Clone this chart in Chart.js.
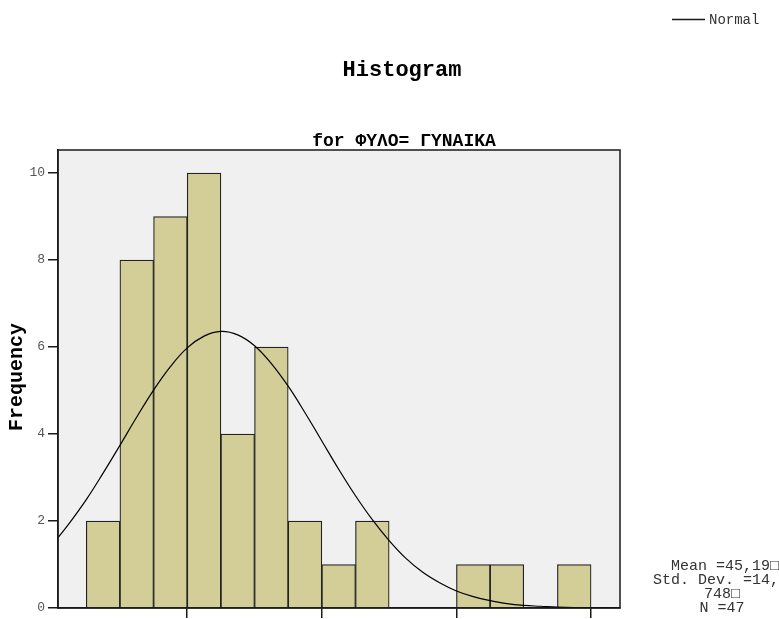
<!DOCTYPE html>
<html>
<head>
<meta charset="utf-8">
<script src="https://cdn.jsdelivr.net/npm/chart.js@4.4.1/dist/chart.umd.min.js"></script>
<style>
  html, body { margin: 0; padding: 0; background: #fff; }
  #wrap { width: 779px; height: 619px; }
</style>
</head>
<body>
<div id="wrap"><canvas id="hist"></canvas></div>
<script>
// histogram bins (centres) and counts
const binCentres = [27.5, 32.5, 37.5, 42.5, 47.5, 52.5, 57.5, 62.5, 67.5, 72.5, 77.5, 82.5, 87.5, 92.5, 97.5];
const counts = [2, 8, 9, 10, 4, 6, 2, 1, 2, 0, 0, 1, 1, 0, 1];

// normal curve
const curveX = [20.8, 22.5, 25, 27.5, 30, 32.5, 35, 37.5, 40, 42.5, 45, 47.5, 50, 52.5, 55, 57.5, 60, 62.5, 65, 67.5, 70, 72.5, 75, 77.5, 80, 82.5, 85, 87.5, 90, 92.5, 95, 97.5, 100, 104.3];
const curveY = [1.62, 1.95, 2.49, 3.10, 3.74, 4.39, 5.01, 5.55, 5.98, 6.25, 6.36, 6.28, 6.03, 5.62, 5.10, 4.49, 3.84, 3.19, 2.58, 2.03, 1.55, 1.14, 0.82, 0.58, 0.39, 0.26, 0.17, 0.10, 0.06, 0.04, 0.02, 0.01, 0.01, 0.0];

const yTicks = [0, 2, 4, 6, 8, 10];
const xTicks = [40, 60, 80, 100];
const statsLines = ["Mean =45,19\u25A1", "Std. Dev. =14,", "748\u25A1", "N =47"];

const mono = "'Liberation Mono', 'Courier New', monospace";

// background, frame and the loose texts
const extras = {
  id: "extras",
  beforeDraw(chart) {
    const { ctx, chartArea: a } = chart;
    ctx.save();
    ctx.fillStyle = "#f0f0f0";
    ctx.fillRect(a.left, a.top, a.right - a.left, a.bottom - a.top);
    ctx.restore();
  },
  afterDraw(chart) {
    const { ctx, chartArea: a } = chart;
    ctx.save();
    ctx.strokeStyle = "#1a1a1a";
    ctx.lineWidth = 1.5;
    ctx.strokeRect(a.left, a.top, a.right - a.left, a.bottom - a.top);

    ctx.fillStyle = "#000";
    ctx.textAlign = "center";
    ctx.textBaseline = "middle";
    ctx.font = "bold 22px " + mono;
    ctx.fillText("Histogram", 402, 70);
    ctx.font = "bold 18px " + mono;
    ctx.fillText("for ΦΥΛΟ= ΓΥΝΑΙΚΑ", 404, 141);

    // y title
    ctx.save();
    ctx.translate(17, 377);
    ctx.rotate(-Math.PI / 2);
    ctx.font = "bold 20px " + mono;
    ctx.fillText("Frequency", 0, 0);
    ctx.restore();

    // legend
    ctx.lineWidth = 1.3;
    ctx.beginPath();
    ctx.moveTo(672, 19.5);
    ctx.lineTo(705, 19.5);
    ctx.stroke();
    ctx.font = "14px " + mono;
    ctx.textAlign = "left";
    ctx.fillStyle = "#333";
    ctx.fillText("Normal", 709, 20);

    // stats box (long lines run to the right edge)
    ctx.font = "15px " + mono;
    statsLines.forEach((s, i) => {
      const y = 566 + i * 14;
      if (i < 2) {
        ctx.textAlign = "right";
        ctx.fillText(s, 779, y);
      } else {
        ctx.textAlign = "center";
        ctx.fillText(s, 722, y);
      }
    });
    ctx.restore();
  }
};

new Chart(document.getElementById("hist"), {
  type: "bar",
  data: {
    datasets: [
      {
        type: "line",
        label: "Normal",
        data: curveX.map((x, i) => ({ x: x, y: curveY[i] })),
        borderColor: "#000",
        borderWidth: 1.2,
        pointRadius: 0,
        tension: 0.4,
        order: 1
      },
      {
        label: "Frequency",
        data: binCentres.map((x, i) => ({ x: x, y: counts[i] })),
        backgroundColor: "#d3ce98",
        borderColor: "#222",
        borderWidth: 1.2,
        barPercentage: 1,
        categoryPercentage: 1,
        grouped: false,
        order: 2
      }
    ]
  },
  options: {
    responsive: true,
    maintainAspectRatio: false,
    animation: false,
    layout: { padding: { left: 0, top: 150, right: 159, bottom: 0 } },
    plugins: { legend: { display: false }, tooltip: { enabled: false } },
    scales: {
      x: {
        type: "linear",
        min: 20.8,
        max: 104.3,
        offset: false,
        afterFit: s => { s.height = 11; },
        afterBuildTicks: s => { s.ticks = xTicks.map(v => ({ value: v })); },
        ticks: { color: "rgba(0,0,0,0)", font: { size: 1 } },
        grid: { offset: false, drawOnChartArea: false, tickLength: 10, color: "#1a1a1a", lineWidth: 1.5 },
        border: { display: true, color: "#1a1a1a", width: 1.5 }
      },
      y: {
        min: 0,
        max: 10.53,
        afterFit: s => { s.width = 58; },
        afterBuildTicks: s => { s.ticks = yTicks.map(v => ({ value: v })); },
        ticks: { color: "#555", padding: 3, font: { family: mono, size: 13 } },
        grid: { drawOnChartArea: false, tickLength: 10, color: "#1a1a1a", lineWidth: 1.5 },
        border: { display: true, color: "#1a1a1a", width: 1.5 }
      }
    }
  },
  plugins: [extras]
});
</script>
</body>
</html>
